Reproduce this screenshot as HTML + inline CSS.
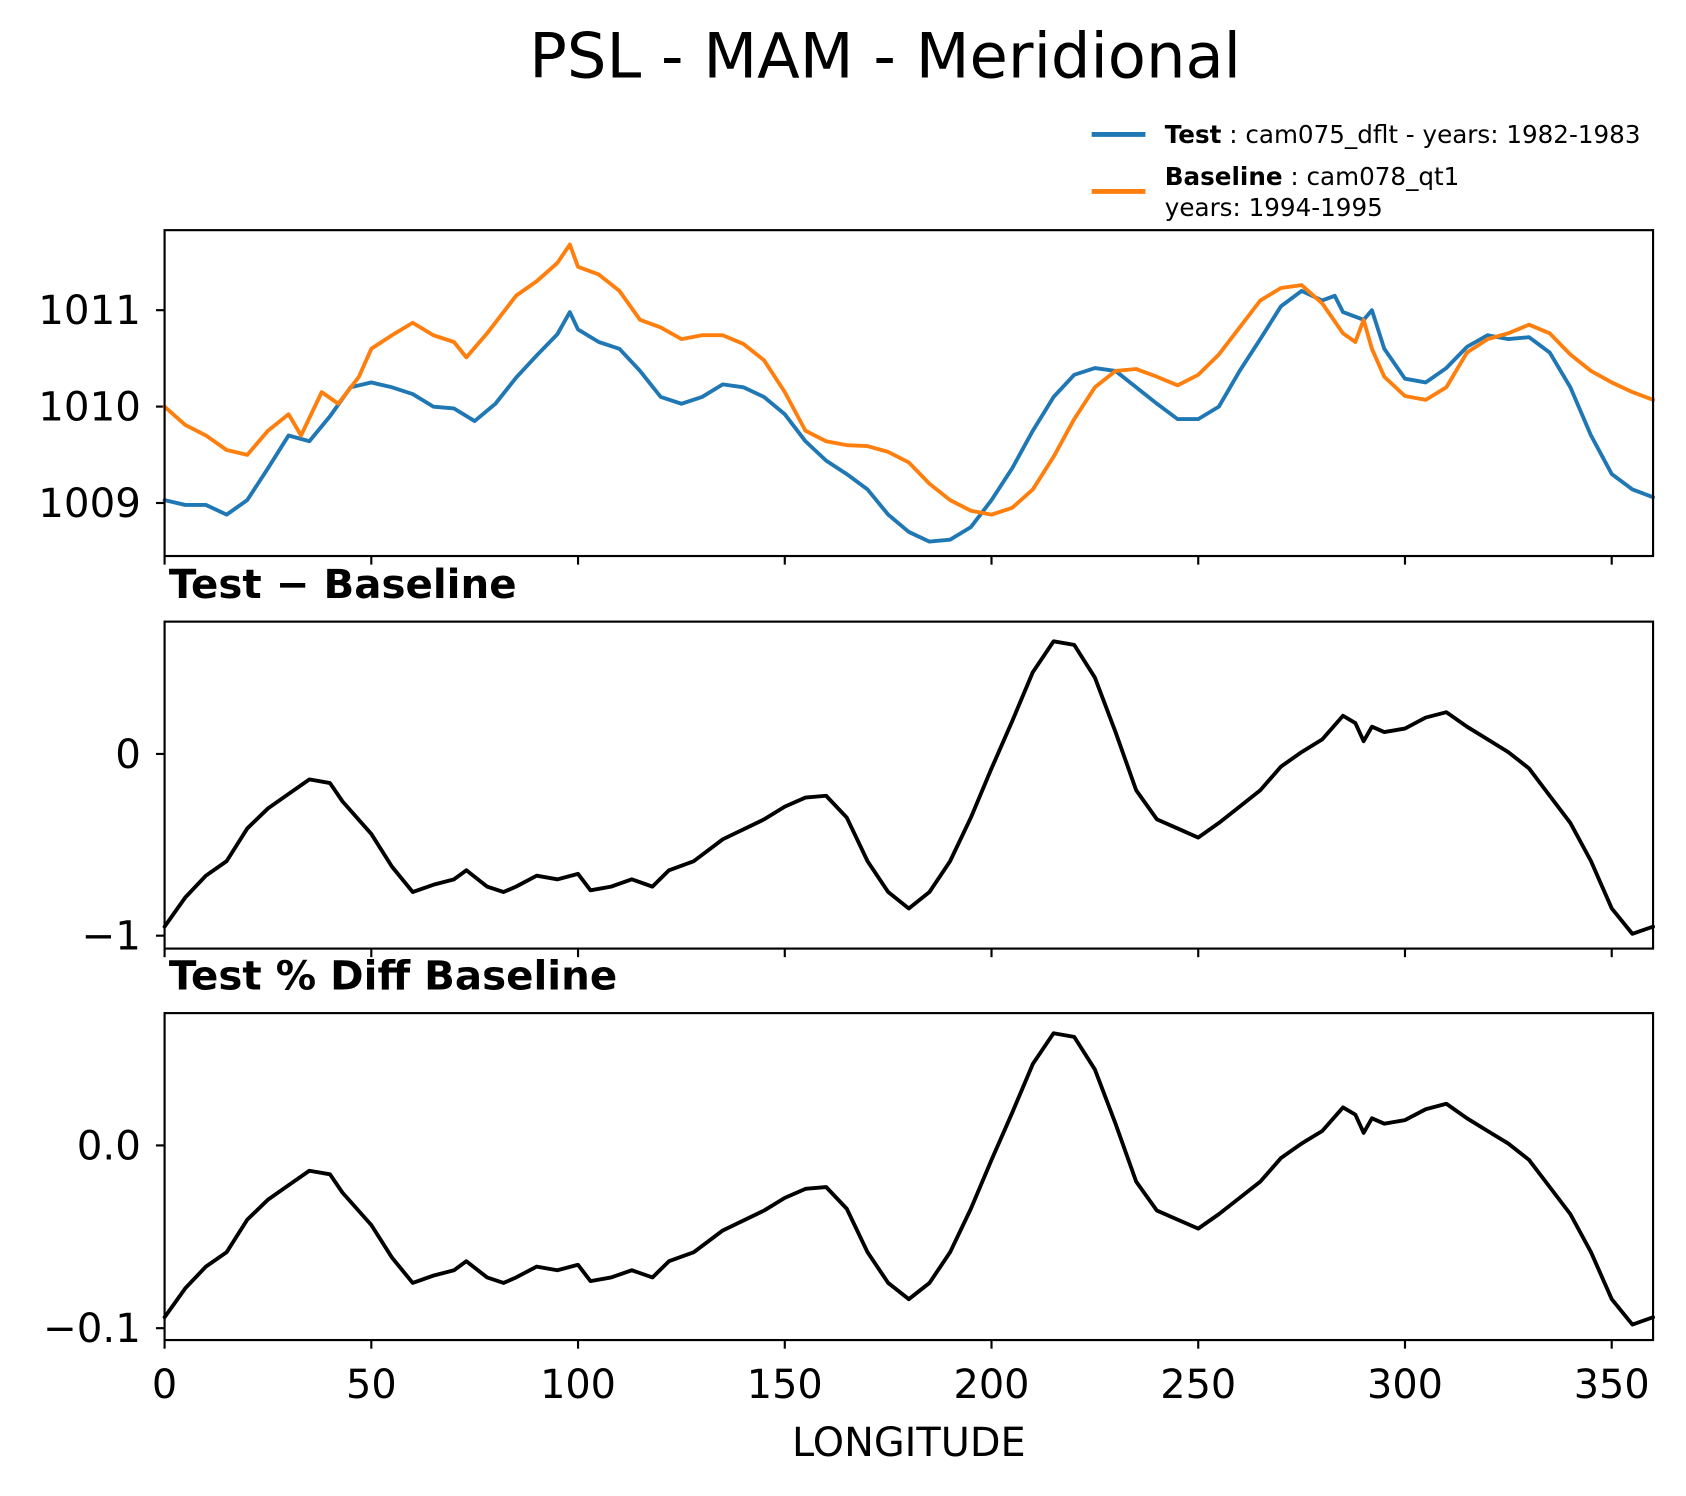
<!DOCTYPE html>
<html><head><meta charset="utf-8"><style>
html,body{margin:0;padding:0;background:#fff;}
svg{display:block;font-family:"DejaVu Sans","Liberation Sans",sans-serif;}
</style></head><body>
<svg id="chart" width="1686" height="1496" viewBox="0 0 1567.6 1391" xmlns="http://www.w3.org/2000/svg">
<rect width="1567.6" height="1391" fill="#fff"/>
<text x="823" y="72" font-size="58" text-anchor="middle">PSL - MAM - Meridional</text>
<g>
<line x1="1015" y1="125" x2="1065" y2="125" stroke="#1f77b4" stroke-width="4.5"/>
<text x="1083" y="133" font-size="22.9"><tspan font-weight="bold">Test</tspan> : cam075_dflt - years: 1982-1983</text>
<line x1="1015" y1="178" x2="1065" y2="178" stroke="#ff7f0e" stroke-width="4.5"/>
<text x="1083" y="172" font-size="22.9"><tspan font-weight="bold">Baseline</tspan> : cam078_qt1</text>
<text x="1083" y="201" font-size="22.9">years: 1994-1995</text>
</g>
<g id="plots"></g>
<text x="845" y="1354" font-size="37" text-anchor="middle">LONGITUDE</text>
</svg>
<script>
const lonTest=[0,5,10,15,20,25,30,35,40,45,50,55,60,65,70,75,80,85,90,95,98,100,105,110,115,120,125,130,135,140,145,150,155,160,165,170,175,180,185,190,195,200,205,210,215,220,225,230,235,240,245,250,255,260,265,270,275,280,283,285,290,292,295,300,305,310,315,320,325,330,335,340,345,350,355,360];
const testVals=[1009.03,1008.98,1008.98,1008.88,1009.03,1009.36,1009.70,1009.64,1009.9,1010.2,1010.25,1010.2,1010.13,1010.0,1009.98,1009.85,1010.03,1010.3,1010.53,1010.75,1010.98,1010.8,1010.67,1010.6,1010.37,1010.1,1010.03,1010.1,1010.23,1010.2,1010.1,1009.92,1009.64,1009.44,1009.3,1009.14,1008.88,1008.7,1008.6,1008.62,1008.75,1009.03,1009.36,1009.75,1010.1,1010.33,1010.4,1010.37,1010.2,1010.03,1009.87,1009.87,1010.0,1010.37,1010.7,1011.04,1011.2,1011.1,1011.15,1010.98,1010.9,1011.0,1010.6,1010.29,1010.25,1010.4,1010.62,1010.74,1010.7,1010.72,1010.56,1010.2,1009.7,1009.3,1009.14,1009.06];
const lonBase=[0,5,10,15,20,25,30,33,38,42,47,50,55,60,65,70,73,78,85,90,95,98,100,105,110,115,120,125,130,135,140,145,150,155,160,165,170,175,180,185,190,195,200,205,210,215,220,225,230,235,240,245,250,255,260,265,270,275,280,285,288,290,292,295,300,305,310,315,320,325,330,335,340,345,350,355,360];
const baseVals=[1010.0,1009.81,1009.7,1009.55,1009.5,1009.75,1009.92,1009.7,1010.15,1010.03,1010.31,1010.6,1010.74,1010.87,1010.74,1010.67,1010.51,1010.76,1011.15,1011.3,1011.49,1011.68,1011.45,1011.37,1011.2,1010.9,1010.82,1010.7,1010.74,1010.74,1010.65,1010.48,1010.15,1009.75,1009.64,1009.6,1009.59,1009.53,1009.42,1009.2,1009.03,1008.92,1008.88,1008.95,1009.14,1009.48,1009.87,1010.2,1010.37,1010.39,1010.31,1010.22,1010.33,1010.54,1010.82,1011.1,1011.23,1011.26,1011.07,1010.76,1010.67,1010.9,1010.6,1010.31,1010.11,1010.07,1010.2,1010.56,1010.7,1010.76,1010.85,1010.76,1010.54,1010.37,1010.25,1010.15,1010.07];
const lonDiff=[0,5,10,15,20,25,30,35,40,43,50,55,60,65,70,73,78,82,85,90,95,100,103,108,113,118,122,128,135,145,150,155,160,165,170,175,180,185,190,195,200,205,210,215,220,225,230,235,240,245,250,255,260,265,270,275,280,285,288,290,292,295,300,305,310,315,320,325,330,335,340,345,350,355,360];
const diffVals=[-0.95,-0.79,-0.67,-0.59,-0.41,-0.30,-0.22,-0.14,-0.16,-0.26,-0.44,-0.62,-0.76,-0.72,-0.69,-0.64,-0.73,-0.76,-0.73,-0.67,-0.69,-0.66,-0.75,-0.73,-0.69,-0.73,-0.64,-0.59,-0.47,-0.36,-0.29,-0.24,-0.23,-0.35,-0.59,-0.76,-0.85,-0.76,-0.59,-0.35,-0.08,0.18,0.45,0.62,0.60,0.42,0.12,-0.20,-0.36,-0.41,-0.46,-0.38,-0.29,-0.20,-0.07,0.01,0.08,0.21,0.17,0.07,0.15,0.12,0.14,0.20,0.23,0.15,0.08,0.01,-0.08,-0.23,-0.38,-0.59,-0.85,-0.99,-0.95];
const baselineRef=1010.2;
const pctVals=diffVals.map(d=>d/baselineRef*100);
const xTicks=[0,50,100,150,200,250,300,350];
const p1Ticks=[1009,1010,1011];
const p2Ticks=[0,-1];
const p3Ticks=[0.0,-0.1];
const p3TickLabels=["0.0","\u22120.1"];
const p2TickLabels=["0","\u22121"];

const NS="http://www.w3.org/2000/svg";
const L=153,R=1537;
const xs=v=>L+(v/360)*(R-L);
const plots=document.getElementById('plots');
function mk(tag,attrs,parent){const e=document.createElementNS(NS,tag);for(const k in attrs)e.setAttribute(k,attrs[k]);(parent||plots).appendChild(e);return e;}
function panel(name,top,bot,ymin,ymax,ticks,labels,showXLabels,title){
  const g=mk('g',{});
  
  
  const ys=v=>bot-(v-ymin)/(ymax-ymin)*(bot-top);
  ticks.forEach((t,i)=>{
    const y=ys(t);
    const tl=mk('line',{x1:L-8,x2:L,y1:y,y2:y,stroke:'#000','stroke-width':2},g);
    
    
    const tx=mk('text',{x:L-22,y:y+13,'font-size':37.5,'text-anchor':'end'},g);
    
    
    tx.textContent=labels[i];
  });
  xTicks.forEach(t=>{
    const x=xs(t);
    const tl=mk('line',{x1:x,x2:x,y1:bot,y2:bot+8,stroke:'#000','stroke-width':2},g);
    
    
    if(showXLabels){
      const tx=mk('text',{x:x,y:bot+54,'font-size':37,'text-anchor':'middle'},g);
      
      
      tx.textContent=t;
    }
  });
  if(title){
    const tt=mk('text',{x:L+4,y:top-22,'font-size':37.5,'font-weight':'bold'},g);
    
    
    tt.textContent=title;
  }
  return {g,ys};
}
function line(p,lons,vals,color,name){
  const pts=lons.map((l,i)=>xs(l).toFixed(1)+','+p.ys(vals[i]).toFixed(1)).join(' ');
  const pl=mk('polyline',{points:pts,fill:'none',stroke:color,'stroke-width':3.6,'stroke-linejoin':'round','stroke-linecap':'round'},p.g);
  
  
}
function frame(p,top,bot){
  const r=mk('rect',{x:L,y:top,width:R-L,height:bot-top,fill:'none',stroke:'#000','stroke-width':2},p.g);
  
  
}
const p1=panel('panel-psl',214,517,1008.45,1011.83,p1Ticks,p1Ticks.map(String),false,null);
line(p1,lonTest,testVals,'#1f77b4','test-line');
line(p1,lonBase,baseVals,'#ff7f0e','baseline-line');
frame(p1,214,517);
const p2=panel('panel-diff',578,882,-1.071,0.728,p2Ticks,p2TickLabels,false,'Test \u2212 Baseline');
line(p2,lonDiff,diffVals,'#000','diff-line');
frame(p2,578,882);
const p3=panel('panel-pct-diff',942,1246,-0.1065,0.0724,p3Ticks,p3TickLabels,true,'Test % Diff Baseline');
line(p3,lonDiff,pctVals,'#000','pct-diff-line');
frame(p3,942,1246);
</script>
</body></html>
